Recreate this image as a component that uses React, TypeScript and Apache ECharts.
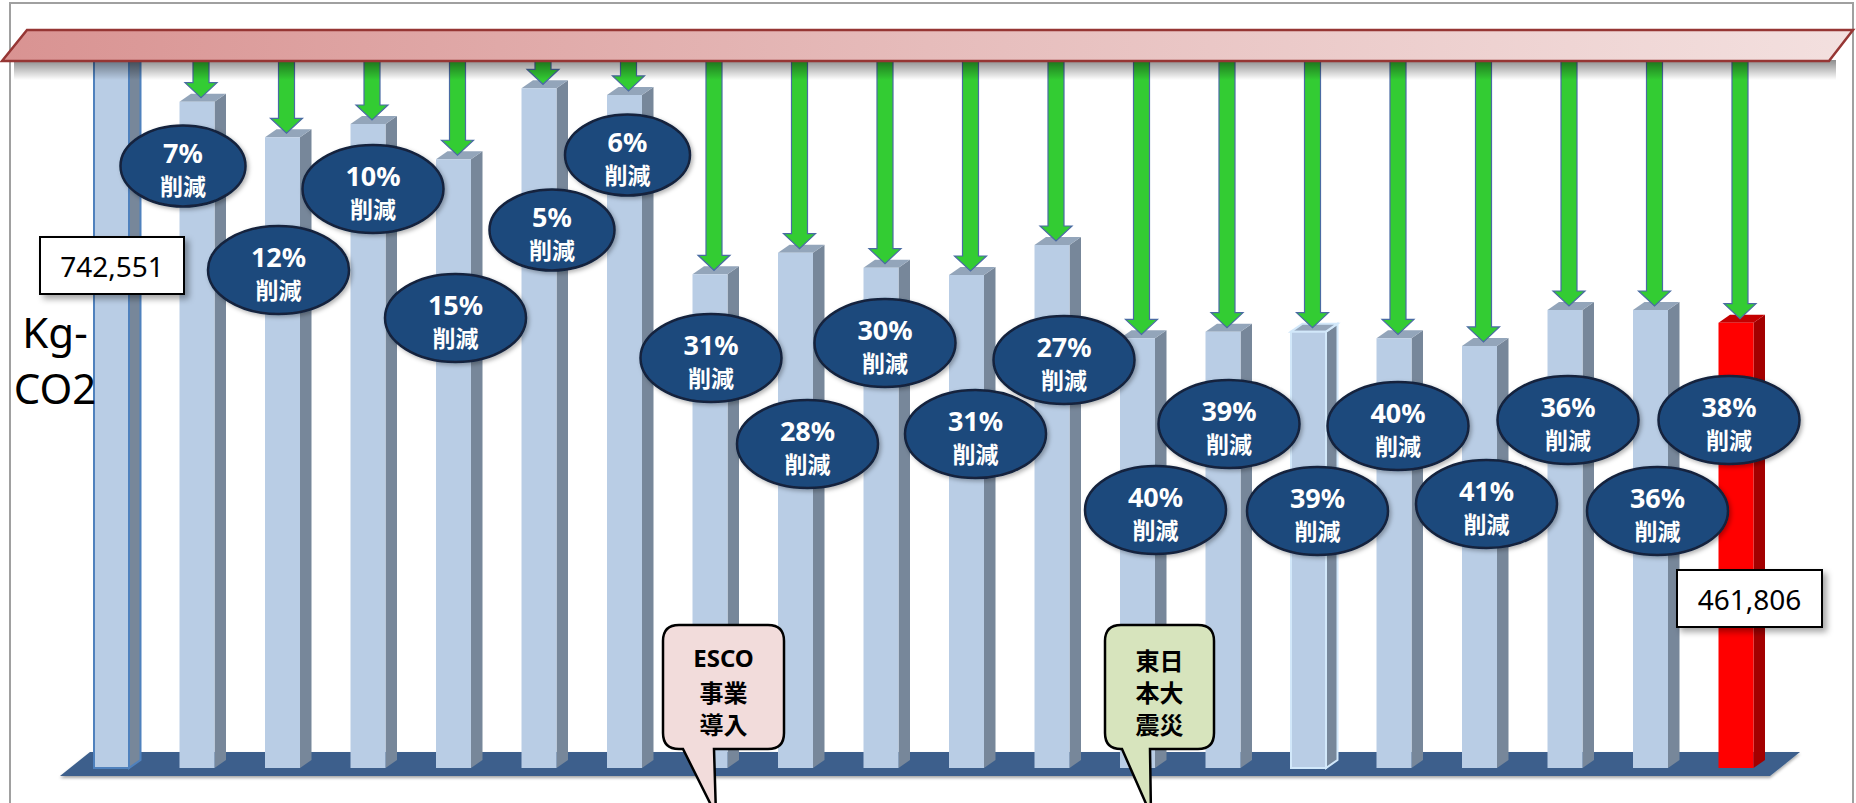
import React, { useEffect, useRef } from "react";
import * as echarts from "echarts";

// ---- data ----
const categories = ["基準", "1", "2", "3", "4", "5", "6", "7", "8", "9", "10", "11", "12", "13", "14", "15", "16", "17", "18", "19"];
const emissions = [742551, 691000, 654100, 667900, 631300, 704900, 698000, 512000, 534400, 518900, 511300, 542400, 445600, 452500, 452500, 445600, 437700, 475000, 475000, 461806];
const reductionPct = ["7%", "12%", "10%", "15%", "5%", "6%", "31%", "28%", "30%", "31%", "27%", "40%", "39%", "39%", "40%", "41%", "36%", "36%", "38%"];
const reductionWord = "削減";
const unitLines = ["Kg-", "CO2"];
const eventEsco = ["ESCO", "事業", "導入"];
const eventQuake = ["東日", "本大", "震災"];

// ---- layout (annotation placement, pixels) ----
const badgeDx = [-14, -4, 5, 2, 13, 3, 1, 12, 4, 9, 12, 18, 6, 9, 4, 7, 3, 7, -7];
const badgeY = [166, 270, 189, 318, 230, 155, 358, 444, 343, 434, 360, 510, 424, 511, 426, 504, 420, 511, 420];

const FONT = "'Noto Sans', 'Open Sans', sans-serif";
const CJK = "'Noto Sans CJK JP', 'Noto Sans', sans-serif";

const BLUE = { front: "#B9CDE5", side: "#77879A", top: "#93A5BA" };
const RED = { front: "#FF0000", side: "#A30000", top: "#C40000" };

function calloutPath(x0: number, y0: number, x1: number, y1: number, r: number, tl: number, tr: number, tx: number, ty: number) {
  return `M${x0 + r} ${y0} H${x1 - r} Q${x1} ${y0} ${x1} ${y0 + r} V${y1 - r} Q${x1} ${y1} ${x1 - r} ${y1} H${tr} L${tx} ${ty} L${tl} ${y1} H${x0 + r} Q${x0} ${y1} ${x0} ${y1 - r} V${y0 + r} Q${x0} ${y0} ${x0 + r} ${y0} Z`;
}

let registered = false;
function registerShapes() {
  if (registered) return;
  registered = true;
  echarts.graphic.registerShape("calloutEsco", echarts.graphic.extendPath(calloutPath(663, 625, 784, 749, 16, 683, 714, 716, 815), {}));
  echarts.graphic.registerShape("calloutQuake", echarts.graphic.extendPath(calloutPath(1105, 625, 1214, 749, 16, 1122, 1150, 1151, 815), {}));
}

const FRONT_W = 35 / 85.5;
const DEPTH_X = 11.5 / 85.5;
const DEPTH_Y = 8;

function barItem(params: any, api: any) {
  const idx = api.value(0);
  const val = api.value(1);
  const top = api.coord([idx, val]);
  const base = api.coord([idx, 0]);
  const bw = api.size([1, 0])[0];
  const w = bw * FRONT_W;
  const dx = bw * DEPTH_X;
  const x0 = top[0] - w / 2;
  const x1 = x0 + w;
  const yt = top[1];
  const yb = base[1];
  const last = params.dataIndex === emissions.length - 1;
  const c = last ? RED : BLUE;
  const outline = params.dataIndex === 0 ? "#4F81BD" : params.dataIndex === 14 ? "#D2E8FA" : null;
  const lw = outline ? 2 : 0;
  return {
    type: "group",
    children: [
      {
        type: "polygon",
        shape: { points: [[x1, yt], [x1 + dx, yt - DEPTH_Y], [x1 + dx, yb - DEPTH_Y], [x1, yb]] },
        style: { fill: c.side, stroke: outline || "none", lineWidth: lw },
      },
      {
        type: "polygon",
        shape: { points: [[x0, yt], [x0 + dx, yt - DEPTH_Y], [x1 + dx, yt - DEPTH_Y], [x1, yt]] },
        style: { fill: c.top, stroke: outline || "none", lineWidth: lw },
      },
      {
        type: "rect",
        shape: { x: x0, y: yt, width: w, height: yb - yt },
        style: { fill: c.front, stroke: outline || "none", lineWidth: lw },
      },
    ],
  };
}

function arrowItem(params: any, api: any) {
  const idx = api.value(0);
  const val = api.value(1);
  const top = api.coord([idx, val]);
  const cx = top[0] + 4;
  const tip = top[1] - 4;
  const y0 = 56;
  const hh = 15;
  return {
    type: "polygon",
    shape: {
      points: [[cx - 8, y0], [cx + 8, y0], [cx + 8, tip - hh], [cx + 16, tip - hh], [cx, tip], [cx - 16, tip - hh], [cx - 8, tip - hh]],
    },
    style: { fill: "#33CC33", stroke: "#4A6BA3", lineWidth: 1.2 },
  };
}

function badgeItem(params: any, api: any) {
  const i = params.dataIndex;
  const idx = api.value(0);
  const c = api.coord([idx, 0]);
  const cx = c[0] + badgeDx[i];
  const cy = badgeY[i];
  const txt = reductionPct[i];
  const single = txt.length <= 2;
  const rx = single ? 62.5 : 70.5;
  const ry = single ? 40.5 : 44;
  return {
    type: "group",
    children: [
      {
        type: "ellipse",
        shape: { cx, cy, rx, ry },
        style: { fill: "#1F487C", stroke: "#12243E", lineWidth: 2.5, shadowBlur: 4, shadowOffsetX: 2, shadowOffsetY: 2, shadowColor: "rgba(0,0,0,0.3)" },
      },
      {
        type: "text",
        x: cx,
        y: cy - 14,
        style: { text: txt, fill: "#FFFFFF", fontFamily: FONT, fontSize: 27, lineHeight: 27, fontWeight: "bold", align: "center", verticalAlign: "middle", textAlign: "center", textVerticalAlign: "middle" },
      },
      {
        type: "text",
        x: cx,
        y: cy + 19,
        style: { text: reductionWord, fill: "#FFFFFF", fontFamily: CJK, fontSize: 23, lineHeight: 23, fontWeight: "bold", align: "center", verticalAlign: "middle", textAlign: "center", textVerticalAlign: "middle" },
      },
    ],
  };
}

function txt(text: string, x: number, y: number, size: number, family: string, weight: string, z: number) {
  return {
    type: "text",
    x,
    y,
    z,
    style: { text, fill: "#000000", fontFamily: family, fontSize: size, lineHeight: size, fontWeight: weight, align: "center", verticalAlign: "middle", textAlign: "center", textVerticalAlign: "middle" },
  };
}

export default function App() {
  const ref = useRef<HTMLDivElement>(null);
  useEffect(() => {
    if (!ref.current) return;
    registerShapes();
    const chart = echarts.init(ref.current, undefined, { renderer: "svg" });
    const fmt = (v: number) => v.toLocaleString("en-US");
    const option: any = {
      animation: false,
      backgroundColor: "#FFFFFF",
      grid: { left: 68.75, right: 77.25, top: 52, bottom: 35 },
      xAxis: { type: "category", data: categories, show: false },
      yAxis: { type: "value", min: 0, max: emissions[0], show: false, splitLine: { show: false } },
      series: [
        {
          type: "custom",
          name: "emission",
          z: 3,
          renderItem: barItem,
          encode: { x: 0, y: 1 },
          data: emissions.map((v, i) => [i, v]),
        },
        {
          type: "custom",
          name: "arrow",
          z: 4,
          renderItem: arrowItem,
          encode: { x: 0, y: 1 },
          data: emissions.slice(1).map((v, i) => [i + 1, v]),
        },
        {
          type: "custom",
          name: "badge",
          z: 5,
          renderItem: badgeItem,
          encode: { x: 0, y: 1 },
          data: reductionPct.map((_, i) => [i + 1, emissions[i + 1]]),
        },
      ],
      graphic: [
        { type: "rect", z: 0, shape: { x: 10, y: 3, width: 1843, height: 840 }, style: { fill: "none", stroke: "#A0A0A0", lineWidth: 2 } },
        {
          type: "polygon",
          z: 1,
          shape: { points: [[90, 752], [1800, 752], [1770, 776], [60, 776]] },
          style: { fill: "#3C5F8C", shadowBlur: 3, shadowOffsetY: 2, shadowColor: "rgba(0,0,0,0.35)" },
        },
        {
          type: "rect",
          z: 20,
          shape: { x: 14, y: 60, width: 1822, height: 20 },
          style: {
            fill: new echarts.graphic.LinearGradient(0, 0, 0, 1, [
              { offset: 0, color: "rgba(0,0,0,0.45)" },
              { offset: 1, color: "rgba(0,0,0,0)" },
            ]),
          },
        },
        {
          type: "polygon",
          z: 21,
          shape: { points: [[2, 61], [27, 30], [1853, 30], [1829, 61]] },
          style: {
            fill: new echarts.graphic.LinearGradient(0, 0, 1, 0, [
              { offset: 0, color: "#D99392" },
              { offset: 0.5, color: "#E6BCBB" },
              { offset: 1, color: "#F3E0DF" },
            ]),
            stroke: "#963634",
            lineWidth: 2.5,
          },
        },
        {
          type: "rect",
          z: 22,
          shape: { x: 40, y: 237, width: 144, height: 57 },
          style: { fill: "#FFFFFF", stroke: "#000000", lineWidth: 2, shadowBlur: 6, shadowOffsetX: 4, shadowOffsetY: 4, shadowColor: "rgba(0,0,0,0.35)" },
        },
        txt(fmt(emissions[0]), 112, 266, 28, FONT, "normal", 23),
        {
          type: "rect",
          z: 22,
          shape: { x: 1677, y: 570, width: 145, height: 57 },
          style: { fill: "#FFFFFF", stroke: "#000000", lineWidth: 2, shadowBlur: 6, shadowOffsetX: 4, shadowOffsetY: 4, shadowColor: "rgba(0,0,0,0.35)" },
        },
        txt(fmt(emissions[emissions.length - 1]), 1749.5, 599, 28, FONT, "normal", 23),
        txt(unitLines[0], 55, 331, 42, FONT, "normal", 22),
        txt(unitLines[1], 55, 387, 42, FONT, "normal", 22),
        { type: "calloutEsco", z: 22, x: 0, y: 0, style: { fill: "#F2DCDB", stroke: "#000000", lineWidth: 2.5 } },
        txt(eventEsco[0], 723.5, 657, 24, FONT, "bold", 23),
        txt(eventEsco[1], 723.5, 691, 24, CJK, "bold", 23),
        txt(eventEsco[2], 723.5, 723, 24, CJK, "bold", 23),
        { type: "calloutQuake", z: 22, x: 0, y: 0, style: { fill: "#D7E4BD", stroke: "#000000", lineWidth: 2.5 } },
        txt(eventQuake[0], 1159.5, 659, 24, CJK, "bold", 23),
        txt(eventQuake[1], 1159.5, 691, 24, CJK, "bold", 23),
        txt(eventQuake[2], 1159.5, 723, 24, CJK, "bold", 23),
      ],
    };
    chart.setOption(option);
    return () => chart.dispose();
  }, []);
  return (
    <div
      ref={ref}
      style={{ position: "fixed", left: 0, top: 0, width: 1856, height: 803, background: "#FFFFFF" }}
    />
  );
}
